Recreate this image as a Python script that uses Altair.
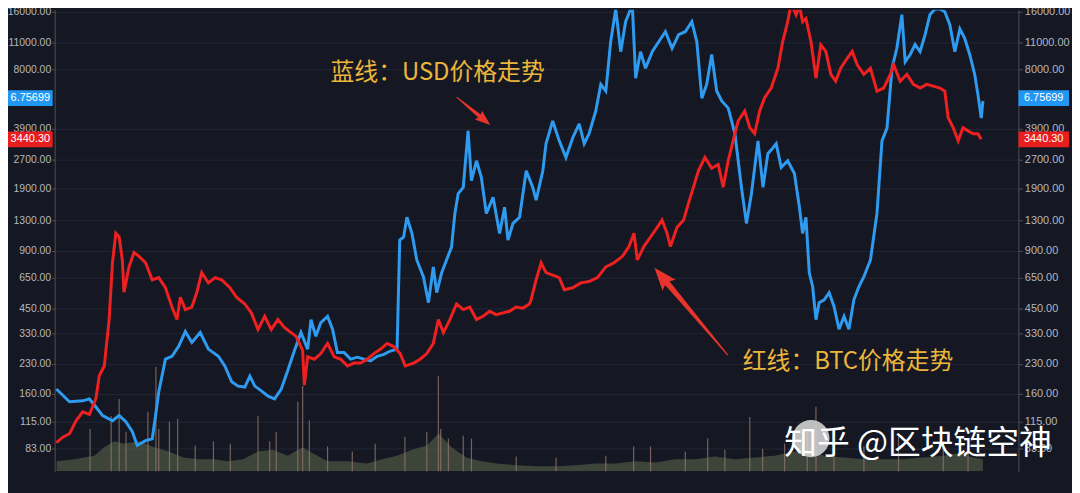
import altair as alt
import pandas as pd
from datetime import datetime

# ---------------- data ----------------
# time as decimal year, BTC/USD price (red line, log scale)
btc_t = [2013.547, 2013.586, 2013.626, 2013.666, 2013.705, 2013.745, 2013.784, 2013.804, 2013.834, 2013.863,
         2013.883, 2013.903, 2013.923, 2013.942, 2013.952, 2013.982, 2014.012, 2014.042, 2014.081, 2014.121,
         2014.160, 2014.200, 2014.239, 2014.269, 2014.289, 2014.319, 2014.358, 2014.388, 2014.417, 2014.457,
         2014.497, 2014.536, 2014.586, 2014.625, 2014.675, 2014.714, 2014.754, 2014.794, 2014.833, 2014.873,
         2014.913, 2014.952, 2014.982, 2015.021, 2015.031, 2015.051, 2015.091, 2015.130, 2015.170, 2015.210,
         2015.249, 2015.289, 2015.328, 2015.368, 2015.407, 2015.447, 2015.486, 2015.526, 2015.566, 2015.605,
         2015.635, 2015.685, 2015.724, 2015.764, 2015.803, 2015.833, 2015.863, 2015.902, 2015.942, 2015.982,
         2016.021, 2016.061, 2016.100, 2016.140, 2016.179, 2016.219, 2016.258, 2016.298, 2016.338, 2016.377,
         2016.387, 2016.417, 2016.447, 2016.476, 2016.516, 2016.555, 2016.585, 2016.635, 2016.684, 2016.733,
         2016.783, 2016.833, 2016.882, 2016.932, 2016.971, 2017.001, 2017.021, 2017.060, 2017.100, 2017.140,
         2017.169, 2017.199, 2017.219, 2017.258, 2017.298, 2017.327, 2017.357, 2017.387, 2017.426, 2017.466,
         2017.505, 2017.535, 2017.565, 2017.594, 2017.624, 2017.664, 2017.694, 2017.723, 2017.753, 2017.783,
         2017.822, 2017.862, 2017.891, 2017.921, 2017.941, 2017.971, 2017.991, 2018.010, 2018.030, 2018.060,
         2018.090, 2018.119, 2018.149, 2018.179, 2018.208, 2018.238, 2018.277, 2018.307, 2018.337, 2018.376,
         2018.416, 2018.455, 2018.495, 2018.535, 2018.555, 2018.594, 2018.634, 2018.673, 2018.713, 2018.752,
         2018.792, 2018.832, 2018.861, 2018.881, 2018.911, 2018.941, 2018.970, 2019.000, 2019.030, 2019.059,
         2019.079]
btc_v = [89, 95, 99, 116, 129, 125, 151, 199, 224, 392,
         777, 1110, 1060, 804, 545, 740, 880, 840, 777, 633,
         650, 575, 456, 392, 513, 442, 456, 545, 690, 610,
         650, 633, 575, 513, 473, 425, 348, 408, 348, 392,
         355, 335, 320, 270, 178, 250, 243, 260, 294, 250,
         243, 224, 232, 232, 243, 260, 274, 294, 283, 260,
         224, 232, 243, 260, 294, 392, 335, 392, 473, 442,
         456, 392, 408, 433, 416, 425, 433, 456, 450, 473,
         498, 633, 777, 690, 670, 650, 562, 575, 610, 620,
         650, 740, 777, 840, 945, 1110, 804, 945, 1060, 1190,
         1300, 1110, 945, 1190, 1300, 1590, 1935, 2360, 2770, 2430,
         2540, 1935, 2660, 3380, 4290, 4840, 3960, 3680, 4840, 5680,
         6380, 8100, 11180, 14200, 17700, 15440, 17300, 14200, 14750, 11180,
         7190, 10750, 9920, 7530, 6930, 8100, 9140, 9920, 8450, 7530,
         8100, 6145, 6380, 7530, 8450, 6930, 7530, 6670, 6380, 6670,
         6530, 6380, 6145, 4460, 3960, 3380, 3960, 3810, 3680, 3680,
         3440]

# USD/CNY (blue line, overlay scale)
usd_t = [2013.547, 2013.626, 2013.705, 2013.745, 2013.784, 2013.824, 2013.883, 2013.923, 2013.963, 2014.002,
         2014.031, 2014.081, 2014.121, 2014.141, 2014.160, 2014.200, 2014.239, 2014.279, 2014.319, 2014.358,
         2014.408, 2014.457, 2014.517, 2014.556, 2014.596, 2014.635, 2014.675, 2014.705, 2014.735, 2014.774,
         2014.814, 2014.853, 2014.893, 2014.932, 2014.972, 2015.011, 2015.051, 2015.071, 2015.100, 2015.130,
         2015.170, 2015.200, 2015.229, 2015.269, 2015.308, 2015.348, 2015.388, 2015.427, 2015.467, 2015.507,
         2015.546, 2015.586, 2015.602, 2015.625, 2015.645, 2015.675, 2015.704, 2015.744, 2015.774, 2015.803,
         2015.823, 2015.853, 2015.882, 2015.912, 2015.932, 2015.952, 2015.982, 2016.011, 2016.031, 2016.061,
         2016.090, 2016.120, 2016.160, 2016.199, 2016.229, 2016.249, 2016.279, 2016.318, 2016.358, 2016.397,
         2016.417, 2016.457, 2016.476, 2016.516, 2016.555, 2016.595, 2016.635, 2016.674, 2016.704, 2016.733,
         2016.773, 2016.803, 2016.833, 2016.862, 2016.892, 2016.922, 2016.951, 2016.991, 2017.011, 2017.040,
         2017.070, 2017.110, 2017.149, 2017.189, 2017.229, 2017.268, 2017.308, 2017.347, 2017.377, 2017.407,
         2017.436, 2017.466, 2017.496, 2017.526, 2017.565, 2017.605, 2017.644, 2017.674, 2017.704, 2017.743,
         2017.773, 2017.802, 2017.832, 2017.852, 2017.882, 2017.921, 2017.961, 2017.991, 2018.010, 2018.030,
         2018.050, 2018.070, 2018.090, 2018.109, 2018.139, 2018.169, 2018.198, 2018.228, 2018.258, 2018.287,
         2018.317, 2018.347, 2018.376, 2018.416, 2018.455, 2018.485, 2018.515, 2018.545, 2018.574, 2018.604,
         2018.624, 2018.654, 2018.683, 2018.713, 2018.743, 2018.772, 2018.802, 2018.832, 2018.861, 2018.891,
         2018.921, 2018.951, 2018.980, 2019.010, 2019.040, 2019.059, 2019.079, 2019.089]
usd_v = [6.144, 6.117, 6.119, 6.123, 6.106, 6.088, 6.077, 6.088, 6.075, 6.054,
         6.025, 6.035, 6.039, 6.088, 6.138, 6.207, 6.213, 6.234, 6.265, 6.242,
         6.263, 6.228, 6.213, 6.192, 6.159, 6.150, 6.148, 6.171, 6.150, 6.140,
         6.129, 6.123, 6.144, 6.183, 6.225, 6.263, 6.228, 6.290, 6.255, 6.284,
         6.297, 6.270, 6.221, 6.221, 6.207, 6.211, 6.207, 6.203, 6.213, 6.217,
         6.224, 6.228, 6.458, 6.464, 6.506, 6.472, 6.416, 6.380, 6.326, 6.401,
         6.347, 6.389, 6.416, 6.443, 6.514, 6.556, 6.569, 6.688, 6.583, 6.625,
         6.590, 6.514, 6.548, 6.472, 6.527, 6.458, 6.493, 6.506, 6.604, 6.569,
         6.542, 6.604, 6.661, 6.709, 6.667, 6.632, 6.673, 6.703, 6.661, 6.682,
         6.730, 6.786, 6.772, 6.876, 6.945, 6.855, 6.918, 6.954, 6.799, 6.855,
         6.820, 6.855, 6.876, 6.897, 6.862, 6.891, 6.897, 6.918, 6.876, 6.757,
         6.786, 6.849, 6.772, 6.751, 6.736, 6.682, 6.569, 6.493, 6.556, 6.667,
         6.569, 6.640, 6.652, 6.661, 6.611, 6.625, 6.598, 6.527, 6.472, 6.506,
         6.389, 6.360, 6.290, 6.326, 6.332, 6.347, 6.318, 6.270, 6.297, 6.270,
         6.332, 6.360, 6.380, 6.416, 6.514, 6.667, 6.694, 6.820, 6.862, 6.933,
         6.834, 6.849, 6.870, 6.855, 6.891, 6.933, 6.945, 6.945, 6.939, 6.912,
         6.855, 6.903, 6.883, 6.849, 6.807, 6.765, 6.715, 6.751]

# volume (relative units): base level and tall spikes
vol_t = [2013.549, 2013.656, 2013.774, 2013.834, 2013.893, 2013.952, 2014.042, 2014.131, 2014.220, 2014.309,
         2014.398, 2014.487, 2014.576, 2014.665, 2014.754, 2014.843, 2014.932, 2015.021, 2015.081, 2015.170,
         2015.289, 2015.407, 2015.496, 2015.586, 2015.675, 2015.764, 2015.835, 2015.912, 2016.001, 2016.090,
         2016.179, 2016.298, 2016.417, 2016.536, 2016.654, 2016.773, 2016.892, 2017.011, 2017.129, 2017.248,
         2017.367, 2017.486, 2017.605, 2017.724, 2017.842, 2017.961, 2018.050, 2018.139, 2018.258, 2018.377,
         2018.496, 2018.614, 2018.733, 2018.852, 2018.941, 2019.030, 2019.089]
vol_v = [2.2, 2.6, 3.4, 5.2, 6.5, 6.0, 6.5, 5.2, 4.3, 3.0,
         2.6, 2.6, 2.2, 2.6, 4.3, 4.7, 3.4, 5.2, 3.9, 2.2,
         2.2, 1.7, 2.6, 3.4, 4.7, 5.6, 8.2, 5.2, 3.0, 2.2,
         1.7, 1.3, 1.1, 1.1, 1.3, 1.7, 1.7, 2.2, 1.9, 2.6,
         2.6, 3.2, 2.6, 3.0, 3.4, 4.3, 4.7, 3.4, 3.0, 2.6,
         2.6, 2.6, 3.0, 3.4, 3.9, 3.0, 2.6]
spike_t = [2013.749, 2013.875, 2013.923, 2013.964, 2014.095, 2014.143, 2014.160, 2014.224, 2014.273, 2014.378,
           2014.487, 2014.588, 2014.754, 2014.824, 2014.863, 2014.992, 2015.021, 2015.061, 2015.170, 2015.318,
           2015.455, 2015.633, 2015.764, 2015.833, 2015.847, 2015.893, 2015.982, 2016.031, 2016.298, 2016.536,
           2016.833, 2016.999, 2017.100, 2017.308, 2017.442, 2017.545, 2017.694, 2017.771, 2017.902, 2018.038,
           2018.090, 2018.198, 2018.377, 2018.584, 2018.852, 2019.000]
spike_v = [9.2, 12.0, 15.7, 8.6, 12.9, 22.6, 9.2, 10.8, 11.4, 5.6,
           6.5, 6.0, 12.0, 6.5, 8.6, 15.1, 18.5, 11.0, 5.4, 4.3,
           6.0, 7.5, 8.6, 20.6, 9.2, 7.1, 7.7, 7.1, 3.2, 3.0,
           3.4, 5.4, 5.4, 4.3, 7.1, 4.7, 11.8, 4.9, 6.0, 8.6,
           14.0, 6.5, 5.4, 7.5, 6.5, 5.4]

y_ticks = [83, 115, 160, 230, 330, 450, 650, 900, 1300, 1900, 2700, 3900, 8000, 11000, 16000]
last_btc = 3440.30
last_usd = 6.75699
note_texts = ["蓝线：USD价格走势", "红线：BTC价格走势"]
note_t = [2015.188, 2017.652]
note_v = [7621, 234.6]
arrow_t = [2016.043, 2017.343]
arrow_v = [4838, 431.9]
watermark = "知乎 @区块链空神"

# ---------------- helpers ----------------
def to_iso(t):
    y = int(t)
    a, b = datetime(y, 1, 1), datetime(y + 1, 1, 1)
    return (a + (b - a) * (t - y)).strftime("%Y-%m-%dT%H:%M:%S")

btc_df = pd.DataFrame({"date": [to_iso(t) for t in btc_t], "v": btc_v})
usd_df = pd.DataFrame({"date": [to_iso(t) for t in usd_t], "v": usd_v})
vol_df = pd.DataFrame({"date": [to_iso(t) for t in vol_t], "v": vol_v})
spk_df = pd.DataFrame({"date": [to_iso(t) for t in spike_t], "v": spike_v})
note_df = pd.DataFrame({"date": [to_iso(t) for t in note_t], "v": note_v, "label": note_texts})
arr1_df = pd.DataFrame({"date": [to_iso(arrow_t[0])], "v": [arrow_v[0]]})
arr2_df = pd.DataFrame({"date": [to_iso(arrow_t[1])], "v": [arrow_v[1]]})
red_df = pd.DataFrame({"v": [last_btc], "label": [f"{last_btc:.2f}"]})
blue_df = pd.DataFrame({"v": [last_usd], "label": [f"{last_usd:.5f}"]})
wm_df = pd.DataFrame({"label": [watermark]})

W, H = 971, 465
BG = "#151823"
GRID = "#222634"
AXC = "#4d515c"
LAB = "#b4b7bf"

xs = alt.Scale(domain=[alt.DateTime(year=2013, month=7, date=16),
                       alt.DateTime(year=2019, month=4, date=21)])
price_s = alt.Scale(type="log", domain=[62.93, 16388], nice=False)
usd_s = alt.Scale(type="linear", domain=[5.9704, 6.9432], nice=False, zero=False)
vol_s = alt.Scale(domain=[0, 100], nice=False)

x_ticks = [alt.DateTime(year=2013, month=8, date=1), alt.DateTime(year=2014, month=1, date=1),
           alt.DateTime(year=2014, month=6, date=1), alt.DateTime(year=2015, month=1, date=1),
           alt.DateTime(year=2015, month=7, date=1), alt.DateTime(year=2016, month=1, date=1),
           alt.DateTime(year=2016, month=7, date=1), alt.DateTime(year=2017, month=1, date=1),
           alt.DateTime(year=2017, month=6, date=1), alt.DateTime(year=2018, month=1, date=1),
           alt.DateTime(year=2018, month=6, date=1), alt.DateTime(year=2019, month=1, date=1)]

x_axis = alt.Axis(values=x_ticks, title=None, grid=True, gridColor=GRID,
                  labelExpr="month(datum.value) == 0 ? timeFormat(datum.value, '%Y') : (month(datum.value) + 1) + '月'",
                  labelColor=LAB, labelFontSize=11, labelFontWeight="bold", labelFont="Liberation Sans",
                  tickSize=4, tickColor=AXC, labelPadding=4, domainColor=AXC, zindex=0,
                  labelOverlap=False, labelFlush=False)
left_axis = alt.Axis(orient="left", values=y_ticks, format=".2f", title=None, grid=True, gridColor=GRID,
                     labelColor=LAB, labelFontSize=10.5, labelFont="Liberation Sans", tickSize=3,
                     tickColor=AXC, labelPadding=1, domainColor=AXC, zindex=0, labelOverlap=False)
right_axis = alt.Axis(orient="right", values=y_ticks, format=".2f", title=None, grid=False,
                      labelColor=LAB, labelFontSize=11, labelFont="Liberation Sans", tickSize=4,
                      tickColor=AXC, labelPadding=2, domainColor=AXC, zindex=0, labelOverlap=False)

X = lambda ax=None: alt.X("date:T", scale=xs, axis=ax)

vol_area = alt.Chart(vol_df).mark_area(color="#66704f", opacity=0.5, clip=True).encode(
    x=X(x_axis), y=alt.Y("v:Q", scale=vol_s, axis=None))
spikes = alt.Chart(spk_df).mark_rule(color="#8e746a", opacity=0.8, strokeWidth=1.2).encode(
    x=X(), y=alt.Y("v:Q", scale=vol_s, axis=None), y2=alt.datum(0))
blue_line = alt.Chart(usd_df).mark_line(color="#2f9bf0", strokeWidth=3, clip=True,
                                        strokeJoin="miter", strokeMiterLimit=3).encode(
    x=X(), y=alt.Y("v:Q", scale=usd_s, axis=None))
red_line = alt.Chart(btc_df).mark_line(color="#ee2020", strokeWidth=3, clip=True,
                                       strokeJoin="miter", strokeMiterLimit=3).encode(
    x=X(), y=alt.Y("v:Q", scale=price_s, axis=left_axis))

notes = alt.Chart(note_df).mark_text(align="left", baseline="middle", font="Noto Sans CJK SC",
                                     fontSize=24, color="#ebb63a").encode(
    x=X(), y=alt.Y("v:Q", scale=price_s, axis=None), text="label:N")

path1 = "M0,-1 L0.26,-0.3 L0.09,-0.36 L0.02,1 L-0.02,1 L-0.09,-0.36 L-0.26,-0.3 Z"
path2 = "M0,-1 L0.15,-0.6 L0.05,-0.65 L0.01,1 L-0.01,1 L-0.05,-0.65 L-0.15,-0.6 Z"
arrow1 = alt.Chart(arr1_df).mark_point(shape=path1, size=1936, angle=129.5, filled=True,
                                       color="#e8342c", opacity=1, strokeWidth=0).encode(
    x=X(), y=alt.Y("v:Q", scale=price_s, axis=None))
arrow2 = alt.Chart(arr2_df).mark_point(shape=path2, size=13225, angle=320, filled=True,
                                       color="#e8342c", opacity=1, strokeWidth=0).encode(
    x=X(), y=alt.Y("v:Q", scale=price_s, axis=None))

def badge(df, scale, color, cx, w, axis=None):
    box = alt.Chart(df).mark_tick(orient="horizontal", size=w, thickness=16, color=color,
                                  opacity=1).encode(
        x=alt.value(cx), y=alt.Y("v:Q", scale=scale, axis=axis))
    txt = alt.Chart(df).mark_text(color="white", fontSize=11, font="Liberation Sans",
                                  align="center", baseline="middle").encode(
        x=alt.value(cx), y=alt.Y("v:Q", scale=scale, axis=None), text="label:N")
    return [box, txt]

badges = (badge(red_df, price_s, "#e81e1e", -24.5, 45, right_axis)
          + badge(red_df, price_s, "#e81e1e", W + 25.5, 51)
          + badge(blue_df, usd_s, "#2196f3", -24.5, 45)
          + badge(blue_df, usd_s, "#2196f3", W + 25.5, 51))

ghost = alt.Chart(wm_df).mark_point(shape="circle", size=1400, filled=True, color="#d0d0d0",
                                    opacity=0.9).encode(x=alt.value(762), y=alt.value(432))
wm = alt.Chart(wm_df).mark_text(align="left", baseline="middle", font="Noto Sans CJK SC",
                                fontSize=33, color="white").encode(
    x=alt.value(735), y=alt.value(438), text="label:N")

chart = alt.layer(vol_area, spikes, blue_line, red_line, notes, arrow1, arrow2, *badges, ghost, wm
).resolve_scale(y="independent").properties(
    width=W, height=H,
    autosize=alt.AutoSizeParams(type="none"),
    padding={"left": 47, "top": 0, "right": 54, "bottom": 20},
).configure(background=BG).configure_view(strokeWidth=0)

chart.save("out.html", embed_options={"renderer": "svg", "actions": False})
